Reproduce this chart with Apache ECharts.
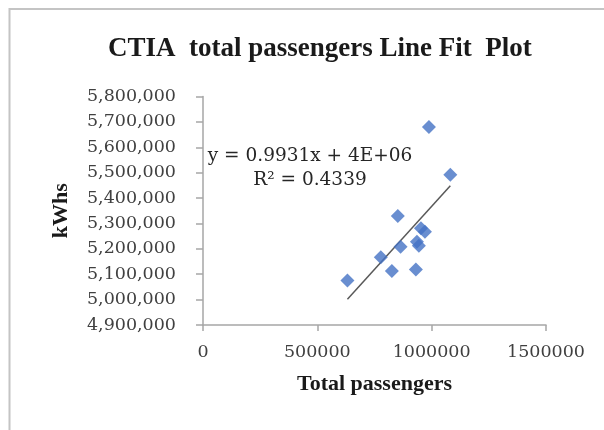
<!DOCTYPE html>
<html>
<head>
<meta charset="utf-8">
<script src="https://cdn.jsdelivr.net/npm/echarts@6/dist/echarts.min.js"></script>
<style>
  html, body { margin: 0; padding: 0; background: #ffffff; }
  #chart { width: 604px; height: 430px; }
</style>
</head>
<body>
<div id="chart"></div>
<script>
// Total passengers per period and the matching electricity use (kWh)
var totalPassengers = [631600, 777600, 826000, 852000, 864000, 931000, 935500, 944000, 953000, 970600, 988000, 1081600];
var kWhs = [5075600, 5166900, 5112200, 5329200, 5208200, 5118500, 5227700, 5212000, 5281200, 5266800, 5680300, 5491900];

// Fitted trend line as reported
var trendSlope = 0.9931;
var trendLabel = ['y = 0.9931x + 4E+06', 'R\u00b2 = 0.4339'];

// Axis ticks
var xTicks = [0, 500000, 1000000, 1500000];
var yTicks = [4900000, 5000000, 5100000, 5200000, 5300000, 5400000, 5500000, 5600000, 5700000, 5800000];

var points = totalPassengers.map(function (x, i) { return [x, kWhs[i]]; });

// Line through the mean point with the reported slope, spanning the data
var meanX = totalPassengers.reduce(function (a, b) { return a + b; }, 0) / totalPassengers.length;
var meanY = kWhs.reduce(function (a, b) { return a + b; }, 0) / kWhs.length;
var trendIntercept = meanY - trendSlope * meanX;
var xMin = Math.min.apply(null, totalPassengers);
var xMax = Math.max.apply(null, totalPassengers);
var trendPoints = [
  [xMin, trendIntercept + trendSlope * xMin],
  [xMax, trendIntercept + trendSlope * xMax]
];

function withCommas(v) {
  return String(v).replace(/\B(?=(\d{3})+(?!\d))/g, ',');
}

var chart = echarts.init(document.getElementById('chart'), null, { renderer: 'canvas' });

chart.setOption({
  backgroundColor: '#ffffff',
  animation: false,
  title: {
    text: 'CTIA  total passengers Line Fit  Plot',
    left: 103,
    top: 31,
    textStyle: {
      fontFamily: '"Liberation Serif", "Times New Roman", serif',
      fontWeight: 'bold',
      fontSize: 27,
      color: '#1a1a1a'
    }
  },
  grid: { left: 203, right: 58, top: 96.5, bottom: 105, containLabel: false },
  xAxis: {
    type: 'value',
    min: xTicks[0],
    max: xTicks[xTicks.length - 1],
    interval: xTicks[1] - xTicks[0],
    name: 'Total passengers',
    nameLocation: 'middle',
    nameGap: 48,
    nameTextStyle: {
      fontFamily: '"Liberation Serif", "Times New Roman", serif',
      fontWeight: 'bold',
      fontSize: 22,
      color: '#1a1a1a'
    },
    axisLine: { show: true, lineStyle: { color: '#a6a6a6', width: 1.5 } },
    axisTick: { show: true, length: 6, lineStyle: { color: '#a6a6a6', width: 1.5 } },
    axisLabel: {
      margin: 18,
      fontFamily: '"DejaVu Serif", serif',
      fontSize: 17.5,
      color: '#404040',
      formatter: function (v) { return String(v); }
    },
    splitLine: { show: false }
  },
  yAxis: {
    type: 'value',
    min: yTicks[0],
    max: yTicks[yTicks.length - 1],
    interval: yTicks[1] - yTicks[0],
    name: 'kWhs',
    nameLocation: 'middle',
    nameGap: 131,
    nameRotate: 90,
    nameTextStyle: {
      fontFamily: '"Liberation Serif", "Times New Roman", serif',
      fontWeight: 'bold',
      fontSize: 22,
      color: '#1a1a1a'
    },
    axisLine: { show: true, lineStyle: { color: '#a6a6a6', width: 1.5 } },
    axisTick: { show: true, length: 7, lineStyle: { color: '#a6a6a6', width: 1.5 } },
    axisLabel: {
      margin: 27,
      fontFamily: '"DejaVu Serif", serif',
      fontSize: 17.5,
      color: '#404040',
      formatter: withCommas
    },
    splitLine: { show: false }
  },
  series: [
    {
      type: 'line',
      data: trendPoints,
      showSymbol: false,
      symbol: 'none',
      lineStyle: { color: '#595959', width: 1.5 },
      z: 2
    },
    {
      type: 'scatter',
      data: points,
      symbol: 'diamond',
      symbolSize: 14,
      itemStyle: { color: '#4472C4' },
      z: 3
    }
  ],
  graphic: [
    {
      type: 'rect',
      shape: { x: 9.5, y: 9, width: 640, height: 460 },
      style: { fill: 'none', stroke: '#c4c4c4', lineWidth: 2 },
      silent: true,
      z: 0
    },
    {
      type: 'text',
      x: 310,
      y: 144,
      style: {
        text: trendLabel.join('\n'),
        textAlign: 'center',
        textVerticalAlign: 'top',
        lineHeight: 24,
        font: '18.5px "DejaVu Serif", serif',
        fill: '#262626'
      },
      z: 10
    }
  ]
});
</script>
</body>
</html>
